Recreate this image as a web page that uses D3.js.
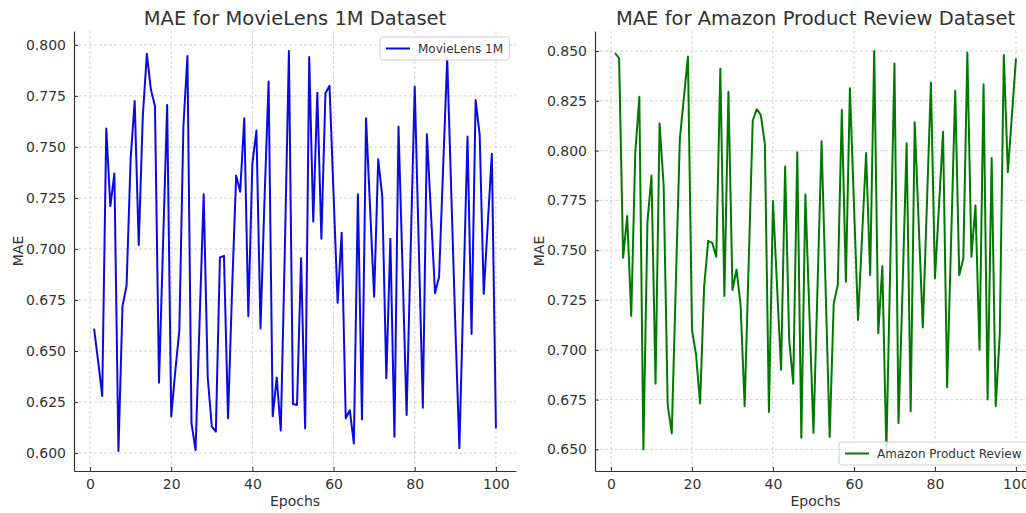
<!DOCTYPE html>
<html>
<head>
<meta charset="utf-8">
<script src="https://cdn.jsdelivr.net/npm/d3@7"></script>
<style>
  body { margin: 0; background: #fff; }
  text { font-family: "DejaVu Sans", sans-serif; fill: #333; }
</style>
</head>
<body>
<svg width="1026" height="513"></svg>
<script>
// epochs 1..100
const epochs = d3.range(1, 101);

// MAE
const maeMovieLens = [
  0.661, 0.645, 0.628, 0.759, 0.721, 0.737, 0.601, 0.672, 0.682, 0.744,
  0.7725, 0.702, 0.765, 0.7956, 0.778, 0.770, 0.6345, 0.703, 0.7706, 0.618,
  0.640, 0.660, 0.760, 0.7946, 0.6145, 0.6015, 0.665, 0.7268, 0.637, 0.613,
  0.6105, 0.6958, 0.6966, 0.617, 0.680, 0.736, 0.728, 0.764, 0.667, 0.742,
  0.758, 0.661, 0.725, 0.782, 0.618, 0.637, 0.611, 0.700, 0.797, 0.624,
  0.6235, 0.6954, 0.612, 0.794, 0.7134, 0.7766, 0.705, 0.7763, 0.780, 0.727,
  0.6737, 0.708, 0.617, 0.621, 0.6047, 0.7268, 0.6165, 0.7641, 0.720, 0.6766,
  0.744, 0.7256, 0.6366, 0.705, 0.608, 0.760, 0.690, 0.6186, 0.700, 0.7796,
  0.701, 0.6222, 0.7562, 0.7175, 0.6783, 0.6864, 0.740, 0.7935, 0.728, 0.6624,
  0.6023, 0.679, 0.7551, 0.6583, 0.773, 0.7559, 0.678, 0.7126, 0.7466, 0.612
];

// MAE
const maeAmazon = [
  0.849, 0.8463, 0.7462, 0.7672, 0.717, 0.799, 0.827, 0.650, 0.7642, 0.7875,
  0.683, 0.8137, 0.7825, 0.6725, 0.658, 0.7325, 0.8058, 0.8267, 0.8472, 0.710,
  0.6975, 0.673, 0.7317, 0.7547, 0.7537, 0.7467, 0.8412, 0.727, 0.8295, 0.730,
  0.7403, 0.7225, 0.6717, 0.7433, 0.815, 0.8208, 0.8178, 0.8033, 0.6688, 0.7747,
  0.732, 0.690, 0.792, 0.705, 0.683, 0.7992, 0.6558, 0.778, 0.718, 0.6583,
  0.7315, 0.8047, 0.7308, 0.6562, 0.7233, 0.7325, 0.8205, 0.7342, 0.8313, 0.773,
  0.715, 0.757, 0.7988, 0.7375, 0.850, 0.7083, 0.742, 0.6492, 0.7463, 0.8437,
  0.6633, 0.7308, 0.8037, 0.6692, 0.8142, 0.7625, 0.7112, 0.7725, 0.8342, 0.7358,
  0.7725, 0.8095, 0.6812, 0.7558, 0.830, 0.7375, 0.7458, 0.8492, 0.7467, 0.7725,
  0.700, 0.8333, 0.675, 0.7963, 0.6717, 0.7075, 0.848, 0.7892, 0.8175, 0.8463
];

const xTicks = [0, 20, 40, 60, 80, 100];
const yTicksMovieLens = d3.range(0.600, 0.8001, 0.025);
const yTicksAmazon = d3.range(0.650, 0.8501, 0.025);

const svg = d3.select("svg");

// one panel = one matplotlib-like axes
function drawPanel(opts) {
  const { left, right, top, bottom, values, yTicks, color, title, legendLabel, legendPos } = opts;

  // 5% margins like matplotlib autoscale
  const xPad = (100 - 1) * 0.05;
  const x = d3.scaleLinear().domain([1 - xPad, 100 + xPad]).range([left, right]);
  const [lo, hi] = d3.extent(values);
  const yPad = (hi - lo) * 0.05;
  const y = d3.scaleLinear().domain([lo - yPad, hi + yPad]).range([bottom, top]);

  const g = svg.append("g");

  // grid
  g.append("g")
    .selectAll("line")
    .data(xTicks)
    .join("line")
    .attr("x1", d => x(d)).attr("x2", d => x(d))
    .attr("y1", top).attr("y2", bottom)
    .attr("stroke", "#c8c8c8").attr("stroke-dasharray", "3,2").attr("stroke-width", 0.8);
  g.append("g")
    .selectAll("line")
    .data(yTicks)
    .join("line")
    .attr("x1", left).attr("x2", right)
    .attr("y1", d => y(d)).attr("y2", d => y(d))
    .attr("stroke", "#c8c8c8").attr("stroke-dasharray", "3,2").attr("stroke-width", 0.8);

  // the series
  const line = d3.line().x((d, i) => x(epochs[i])).y(d => y(d));
  g.append("path")
    .datum(values)
    .attr("fill", "none")
    .attr("stroke", color)
    .attr("stroke-width", 2)
    .attr("stroke-linejoin", "round")
    .attr("d", line);

  // axes, ticks pointing inward
  const xAxis = g.append("g")
    .attr("transform", `translate(0,${bottom})`)
    .call(d3.axisBottom(x).tickValues(xTicks).tickFormat(d3.format("d")).tickSizeInner(-4).tickSizeOuter(0).tickPadding(8));
  const yAxis = g.append("g")
    .attr("transform", `translate(${left},0)`)
    .call(d3.axisLeft(y).tickValues(yTicks).tickFormat(d3.format(".3f")).tickSizeInner(-4).tickSizeOuter(0).tickPadding(8));
  [xAxis, yAxis].forEach(a => {
    a.select(".domain").attr("stroke", "#333").attr("stroke-width", 1.2);
    a.selectAll(".tick line").attr("stroke", "#333");
    a.selectAll(".tick text").style("font-size", "14px").attr("fill", "#333");
  });

  // titles and labels
  g.append("text")
    .attr("x", (left + right) / 2).attr("y", 25)
    .attr("text-anchor", "middle")
    .style("font-size", "19.5px")
    .text(title);
  g.append("text")
    .attr("x", (left + right) / 2).attr("y", 506)
    .attr("text-anchor", "middle")
    .style("font-size", "14px")
    .text("Epochs");
  g.append("text")
    .attr("transform", `translate(${left - 51},${(top + bottom) / 2}) rotate(-90)`)
    .attr("text-anchor", "middle")
    .style("font-size", "14px")
    .text("MAE");

  // legend
  const lg = g.append("g").attr("transform", `translate(${legendPos[0]},${legendPos[1]})`);
  const tw = legendLabel.length * 7.3 + 42;
  lg.append("rect")
    .attr("width", tw).attr("height", 23).attr("rx", 3)
    .attr("fill", "#fff").attr("fill-opacity", 0.85)
    .attr("stroke", "#d0d0d0");
  lg.append("line")
    .attr("x1", 6).attr("x2", 30).attr("y1", 11.5).attr("y2", 11.5)
    .attr("stroke", color).attr("stroke-width", 2);
  lg.append("text")
    .attr("x", 38).attr("y", 16)
    .style("font-size", "12px")
    .text(legendLabel);
}

drawPanel({
  left: 74, right: 516, top: 31, bottom: 471,
  values: maeMovieLens, yTicks: yTicksMovieLens, color: "#0a0ae6",
  title: "MAE for MovieLens 1M Dataset",
  legendLabel: "MovieLens 1M", legendPos: [380, 37]
});

drawPanel({
  left: 595, right: 1036, top: 31, bottom: 471,
  values: maeAmazon, yTicks: yTicksAmazon, color: "#007a00",
  title: "MAE for Amazon Product Review Dataset",
  legendLabel: "Amazon Product Review", legendPos: [839, 442]
});
</script>
</body>
</html>
